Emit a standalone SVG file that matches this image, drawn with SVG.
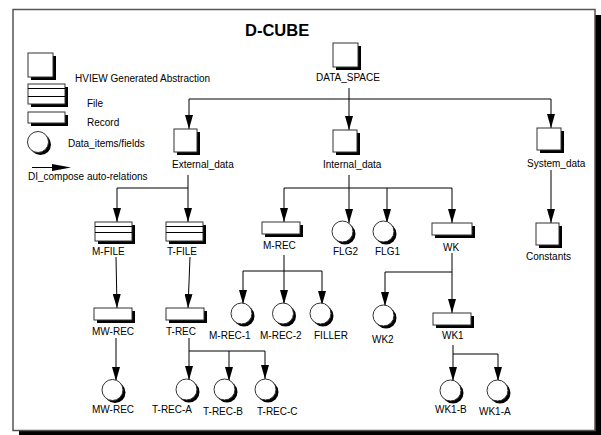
<svg xmlns="http://www.w3.org/2000/svg" width="601" height="435" viewBox="0 0 601 435">
<style>
text{font-family:"Liberation Sans",Arial,sans-serif;font-size:10px;fill:#000}
.t{font-size:16.5px;font-weight:bold}
.sh{fill:#000}
.box{fill:#fff;stroke:#333;stroke-width:1}
.ln{fill:none;stroke:#000;stroke-width:1}
.ar{fill:none;stroke:#000;stroke-width:1;marker-end:url(#ah)}
</style>
<defs>
<marker id="ah" markerUnits="userSpaceOnUse" markerWidth="14" markerHeight="8" refX="14" refY="4" orient="auto">
<path d="M0,0 L14,4 L0,8 z" fill="#000"/>
</marker>
</defs>
<rect x="19" y="15" width="582" height="421" fill="#000"/>
<rect x="13" y="9.5" width="582" height="421" fill="#fff" stroke="#555" stroke-width="1.5"/>
<text class="t" x="245" y="36">D-CUBE</text>

<g id="legend">
<rect class="sh" x="31" y="56" width="25" height="24"/>
<rect class="box" x="28" y="53" width="25" height="24"/>
<text x="75" y="82">HVIEW Generated Abstraction</text>
<rect class="sh" x="31" y="87" width="37" height="20"/>
<rect class="box" x="28" y="84" width="37" height="20"/>
<path class="ln" d="M28,88.5 H65 M28,96.5 H65"/>
<text x="87" y="107">File</text>
<rect class="sh" x="31" y="115" width="37" height="11"/>
<rect class="box" x="28" y="112" width="37" height="11"/>
<text x="87" y="126">Record</text>
<circle class="sh" cx="40.5" cy="144.5" r="10.5"/>
<circle class="box" cx="38" cy="142" r="10.5"/>
<text x="68" y="147">Data_items/fields</text>
<path class="ln" d="M32,167.5 H53"/>
<path d="M52,164 L71,167.5 L52,171 z" fill="#000"/>
<text x="28" y="180">DI_compose auto-relations</text>
</g>

<g id="connectors">
<path class="ln" d="M189,99 H551"/>
<path class="ar" d="M349,88 V130"/>
<path class="ar" d="M189,99 V129"/>
<path class="ar" d="M551,99 V128"/>
<path class="ln" d="M117,188 H188"/>
<path class="ar" d="M188,175 V222"/>
<path class="ar" d="M117,188 V222"/>
<path class="ln" d="M284,188 H452"/>
<path class="ar" d="M349,175 V223"/>
<path class="ar" d="M284,188 V222"/>
<path class="ar" d="M387,188 V223"/>
<path class="ar" d="M452,188 V223"/>
<path class="ar" d="M551,170 V223"/>
<path class="ar" d="M116,257 L117,308"/>
<path class="ar" d="M190,257 L188,308"/>
<path class="ln" d="M243,271 H322"/>
<path class="ar" d="M284,255 V304"/>
<path class="ar" d="M243,271 V304"/>
<path class="ar" d="M322,271 V305"/>
<path class="ln" d="M385,272 H452"/>
<path class="ar" d="M452,253 V313"/>
<path class="ar" d="M385,272 V306"/>
<path class="ln" d="M453,354 H498"/>
<path class="ar" d="M453,345 V381"/>
<path class="ar" d="M498,354 V381"/>
<path class="ar" d="M116,338 V381"/>
<path class="ln" d="M189,351 H265"/>
<path class="ar" d="M189,338 V380"/>
<path class="ar" d="M229,351 V381"/>
<path class="ar" d="M265,351 V379"/>
</g>

<g id="DATA_SPACE">
<rect class="sh" x="336" y="46" width="25" height="24"/>
<rect class="box" x="333" y="43" width="25" height="24"/>
<text x="316" y="81">DATA_SPACE</text>
</g>
<g id="External_data">
<rect class="sh" x="177" y="132" width="23" height="23"/>
<rect class="box" x="174" y="129" width="23" height="23"/>
<text x="172" y="168">External_data</text>
</g>
<g id="Internal_data">
<rect class="sh" x="336" y="133" width="24" height="22"/>
<rect class="box" x="333" y="130" width="24" height="22"/>
<text x="323" y="168">Internal_data</text>
</g>
<g id="System_data">
<rect class="sh" x="540" y="131" width="24" height="22"/>
<rect class="box" x="537" y="128" width="24" height="22"/>
<text x="527" y="167">System_data</text>
</g>
<g id="Constants">
<rect class="sh" x="539" y="226" width="23" height="22"/>
<rect class="box" x="536" y="223" width="23" height="22"/>
<text x="526" y="260">Constants</text>
</g>

<g id="M-FILE">
<rect class="sh" x="98" y="225" width="37" height="19"/>
<rect class="box" x="95" y="222" width="37" height="19"/>
<path class="ln" d="M95,226.5 H132 M95,232.5 H132"/>
<text x="92" y="255">M-FILE</text>
</g>
<g id="T-FILE">
<rect class="sh" x="169" y="225" width="37" height="19"/>
<rect class="box" x="166" y="222" width="37" height="19"/>
<path class="ln" d="M166,226.5 H203 M166,232.5 H203"/>
<text x="167" y="255">T-FILE</text>
</g>
<g id="M-REC">
<rect class="sh" x="265" y="225" width="38" height="12"/>
<rect class="box" x="262" y="222" width="38" height="12"/>
<text x="263" y="249">M-REC</text>
</g>
<g id="FLG2">
<circle class="sh" cx="345" cy="234" r="10.5"/>
<circle class="box" cx="342.5" cy="231.5" r="10.5"/>
<text x="333" y="255">FLG2</text>
</g>
<g id="FLG1">
<circle class="sh" cx="386" cy="234" r="10.5"/>
<circle class="box" cx="383.5" cy="231.5" r="10.5"/>
<text x="375" y="255">FLG1</text>
</g>
<g id="WK">
<rect class="sh" x="435" y="226" width="40" height="12"/>
<rect class="box" x="432" y="223" width="40" height="12"/>
<text x="443" y="251">WK</text>
</g>

<g id="MW-REC">
<rect class="sh" x="97" y="311" width="38" height="12"/>
<rect class="box" x="94" y="308" width="38" height="12"/>
<text x="92" y="335">MW-REC</text>
</g>
<g id="T-REC">
<rect class="sh" x="169" y="311" width="38" height="12"/>
<rect class="box" x="166" y="308" width="38" height="12"/>
<text x="166" y="335">T-REC</text>
</g>
<g id="M-REC-1">
<circle class="sh" cx="244" cy="316" r="10.5"/>
<circle class="box" cx="241.5" cy="313.5" r="10.5"/>
<text x="209" y="339">M-REC-1</text>
</g>
<g id="M-REC-2">
<circle class="sh" cx="285.5" cy="316" r="10.5"/>
<circle class="box" cx="283" cy="313.5" r="10.5"/>
<text x="260" y="339">M-REC-2</text>
</g>
<g id="FILLER">
<circle class="sh" cx="323" cy="316" r="10.5"/>
<circle class="box" cx="320.5" cy="313.5" r="10.5"/>
<text x="314" y="339">FILLER</text>
</g>
<g id="WK2">
<circle class="sh" cx="386" cy="318" r="10.5"/>
<circle class="box" cx="383.5" cy="315.5" r="10.5"/>
<text x="372" y="343">WK2</text>
</g>
<g id="WK1">
<rect class="sh" x="436" y="316" width="38" height="12"/>
<rect class="box" x="433" y="313" width="38" height="12"/>
<text x="442" y="339">WK1</text>
</g>

<g id="MW-REC-item">
<circle class="sh" cx="115" cy="392.5" r="10.5"/>
<circle class="box" cx="112.5" cy="390" r="10.5"/>
<text x="92" y="413">MW-REC</text>
</g>
<g id="T-REC-A">
<circle class="sh" cx="189" cy="392" r="10.5"/>
<circle class="box" cx="186.5" cy="389.5" r="10.5"/>
<text x="152" y="413">T-REC-A</text>
</g>
<g id="T-REC-B">
<circle class="sh" cx="227" cy="392" r="10.5"/>
<circle class="box" cx="224.5" cy="389.5" r="10.5"/>
<text x="203" y="415">T-REC-B</text>
</g>
<g id="T-REC-C">
<circle class="sh" cx="268" cy="392" r="10.5"/>
<circle class="box" cx="265.5" cy="389.5" r="10.5"/>
<text x="257" y="415">T-REC-C</text>
</g>
<g id="WK1-B">
<circle class="sh" cx="453" cy="393" r="10.5"/>
<circle class="box" cx="450.5" cy="390.5" r="10.5"/>
<text x="435" y="413">WK1-B</text>
</g>
<g id="WK1-A">
<circle class="sh" cx="500" cy="393" r="10.5"/>
<circle class="box" cx="497.5" cy="390.5" r="10.5"/>
<text x="479" y="415">WK1-A</text>
</g>
</svg>
